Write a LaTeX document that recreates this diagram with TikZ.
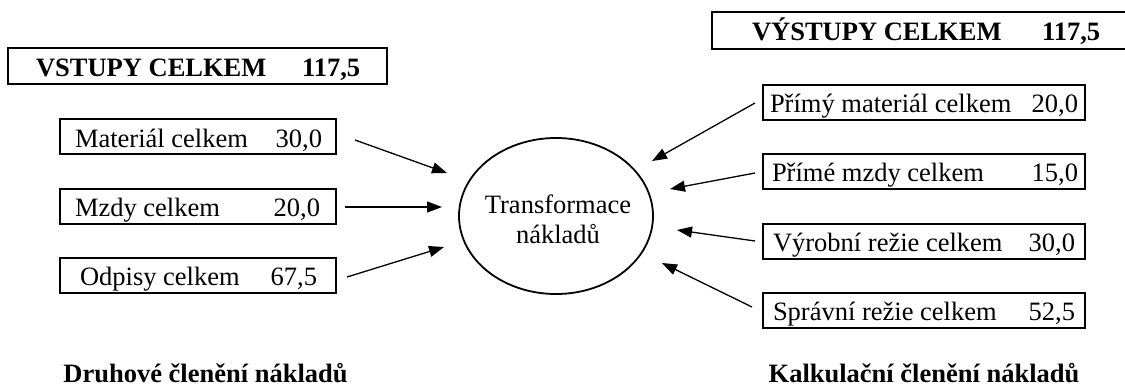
\documentclass[tikz,border=0pt]{standalone}
\usepackage{fontspec}
\setmainfont{Liberation Serif}
\usetikzlibrary{arrows.meta,shapes.geometric}

\begin{document}
\begin{tikzpicture}[x=1pt,y=-1pt,
  txt/.style={inner sep=0pt,outer sep=0pt,font=\fontsize{26.5}{30}\selectfont},
  hd/.style={txt,font=\fontsize{26.5}{30}\selectfont\bfseries},
  headbox/.style={draw,line width=2.4pt,inner sep=0pt,outer sep=0pt,anchor=north west},
  itembox/.style={draw,line width=1.4pt,inner sep=0pt,outer sep=0pt,anchor=north west,
    minimum height=35pt},
  flow/.style={line width=1.3pt,-{Triangle[length=15pt,width=11pt]}}]

\useasboundingbox (0,0) rectangle (1125,389);

% headline boxes
\node[headbox,minimum width=379pt,minimum height=36pt] (inhead) at (8,48) {};
\node[hd,anchor=base west] (inheadl) at (36,76) {VSTUPY CELKEM};
\node[hd,anchor=base west] (inheadv) at (302,76) {117,5};

\node[headbox,minimum width=430pt,minimum height=37pt] (outhead) at (712,12) {};
\node[hd,anchor=base west] (outheadl) at (752,40) {VÝSTUPY CELKEM};
\node[hd,anchor=base west] (outheadv) at (1042,40) {117,5};

% inputs (cost types)
\node[itembox,minimum width=276pt] (in1) at (60,119) {};
\node[txt,anchor=base west] (in1l) at (75,147) {Materiál celkem};
\node[txt,anchor=base east] (in1v) at (322,147) {30,0};

\node[itembox,minimum width=276pt] (in2) at (60,189) {};
\node[txt,anchor=base west] (in2l) at (75,216) {Mzdy celkem};
\node[txt,anchor=base east] (in2v) at (320,216) {20,0};

\node[itembox,minimum width=276pt] (in3) at (60,258) {};
\node[txt,anchor=base west] (in3l) at (80,285) {Odpisy celkem};
\node[txt,anchor=base east] (in3v) at (317,285) {67,5};

% outputs (costing items)
\node[itembox,minimum width=322pt] (out1) at (763,85) {};
\node[txt,anchor=base west] (out1l) at (770,112) {Přímý materiál celkem};
\node[txt,anchor=base east] (out1v) at (1078,112) {20,0};

\node[itembox,minimum width=322pt] (out2) at (763,154) {};
\node[txt,anchor=base west] (out2l) at (772,181) {Přímé mzdy celkem};
\node[txt,anchor=base east] (out2v) at (1078,181) {15,0};

\node[itembox,minimum width=322pt] (out3) at (763,224) {};
\node[txt,anchor=base west] (out3l) at (773,251) {Výrobní režie celkem};
\node[txt,anchor=base east] (out3v) at (1075,251) {30,0};

\node[itembox,minimum width=322pt] (out4) at (763,293) {};
\node[txt,anchor=base west] (out4l) at (773,320) {Správní režie celkem};
\node[txt,anchor=base east] (out4v) at (1075,320) {52,5};

% transformation
\node[ellipse,draw,line width=1.8pt,minimum width=194pt,minimum height=156pt,
  inner sep=0pt] (trans) at (556,216) {};
\node[txt,align=center] (transl) at (558,219) {Transformace\\nákladů};

% arrow ends
\coordinate (a1s) at (355,140); \coordinate (a1e) at (447,173);
\coordinate (a2s) at (345,207); \coordinate (a2e) at (442,207);
\coordinate (a3s) at (347,277); \coordinate (a3e) at (444,247);
\coordinate (b1s) at (755,103); \coordinate (b1e) at (652,161);
\coordinate (b2s) at (755,173); \coordinate (b2e) at (670,189);
\coordinate (b3s) at (755,241); \coordinate (b3e) at (677,230);
\coordinate (b4s) at (752,307); \coordinate (b4e) at (662,263);

\draw[flow] (a1s) -- (a1e);
\draw[flow] (a2s) -- (a2e);
\draw[flow] (a3s) -- (a3e);
\draw[flow] (b1s) -- (b1e);
\draw[flow] (b2s) -- (b2e);
\draw[flow] (b3s) -- (b3e);
\draw[flow] (b4s) -- (b4e);

% captions
\node[hd,anchor=base] (capl) at (205.5,382) {Druhové členění nákladů};
\node[hd,anchor=base] (capr) at (924,382) {Kalkulační členění nákladů};
\end{tikzpicture}
\end{document}
